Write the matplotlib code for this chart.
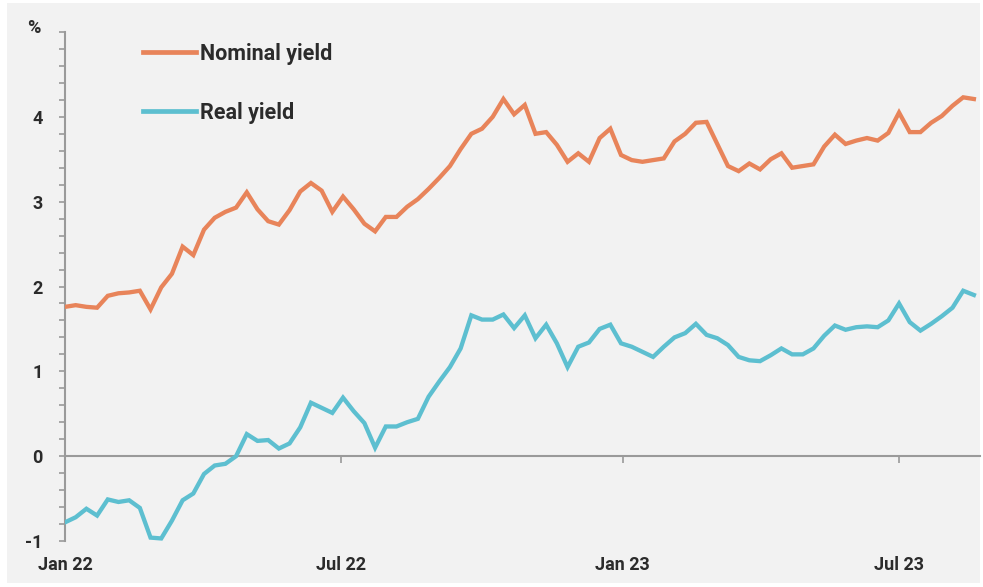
import pandas as pd
import matplotlib.pyplot as plt
import matplotlib.dates as mdates
from matplotlib.patches import Rectangle

# Weekly 10-year yields, % (first week of Jan 2022 to mid-Aug 2023)
start_date = '2022-01-01'
nominal_yield = [
    1.76, 1.78, 1.76, 1.75, 1.89, 1.92, 1.93, 1.95, 1.73, 1.99,
    2.15, 2.47, 2.37, 2.67, 2.81, 2.88, 2.93, 3.11, 2.91, 2.77,
    2.73, 2.90, 3.12, 3.22, 3.13, 2.88, 3.06, 2.91, 2.74, 2.65,
    2.82, 2.82, 2.94, 3.03, 3.15, 3.28, 3.42, 3.62, 3.80, 3.86,
    4.00, 4.21, 4.03, 4.14, 3.80, 3.82, 3.67, 3.47, 3.57, 3.47,
    3.75, 3.86, 3.55, 3.49, 3.47, 3.49, 3.51, 3.71, 3.80, 3.93,
    3.94, 3.68, 3.42, 3.36, 3.45, 3.38, 3.50, 3.57, 3.40, 3.42,
    3.44, 3.65, 3.79, 3.68, 3.72, 3.75, 3.72, 3.81, 4.05, 3.82,
    3.82, 3.93, 4.01, 4.13, 4.23, 4.21,
]
real_yield = [
    -0.78, -0.72, -0.62, -0.70, -0.51, -0.54, -0.52, -0.61, -0.96, -0.97,
    -0.76, -0.52, -0.44, -0.21, -0.11, -0.09, 0.00, 0.26, 0.18, 0.19,
    0.09, 0.15, 0.34, 0.63, 0.57, 0.51, 0.69, 0.53, 0.39, 0.10,
    0.35, 0.35, 0.40, 0.44, 0.70, 0.88, 1.05, 1.27, 1.66, 1.61,
    1.61, 1.67, 1.51, 1.66, 1.39, 1.55, 1.33, 1.05, 1.29, 1.34,
    1.50, 1.55, 1.33, 1.29, 1.23, 1.17, 1.29, 1.40, 1.45, 1.56,
    1.43, 1.39, 1.31, 1.17, 1.13, 1.12, 1.19, 1.27, 1.20, 1.20,
    1.27, 1.42, 1.54, 1.49, 1.52, 1.53, 1.52, 1.60, 1.80, 1.58,
    1.48, 1.56, 1.65, 1.75, 1.95, 1.90,
]
series_names = ['Nominal yield', 'Real yield']
series_colors = ['#e8845a', '#5dbfd0']
y_ticks = [-1, 0, 1, 2, 3, 4]
y_tick_labels = ['-1', '0', '1', '2', '3', '4']

dates = pd.date_range(start_date, periods=len(nominal_yield), freq='7D')

plt.rcParams['font.family'] = ['Roboto', 'DejaVu Sans']
text_col = '#2b2b2b'
axis_col = '#9a9a9a'
weight = 'semibold'

fig = plt.figure(figsize=(9.83, 5.87), dpi=100, facecolor='white')
# grey panel behind the chart, leaving a thin white margin
fig.patches.append(Rectangle((7 / 983, 4 / 587), 973 / 983, 580 / 587,
                             transform=fig.transFigure, facecolor='#f2f2f2',
                             edgecolor='none', zorder=-5))
ax = fig.add_axes([65 / 983, 1 - 541 / 587, 915 / 983, 509 / 587])
ax.set_facecolor('none')

for vals, name, col in zip([nominal_yield, real_yield], series_names, series_colors):
    ax.plot(dates, vals, color=col, lw=3.1, label=name, solid_joinstyle='miter',
            zorder=3)

ax.set_ylim(-1, 5)
ax.set_xlim(pd.Timestamp(start_date), pd.Timestamp(start_date) + pd.Timedelta(days=599))

# y axis
ax.set_yticks(y_ticks)
ax.set_yticklabels(y_tick_labels)
ax.set_yticks([v / 5 for v in range(-5, 26)], minor=True)
ax.tick_params(axis='y', which='both', direction='out', length=4, width=1.2,
               color=axis_col, labelsize=13, labelcolor=text_col, pad=12)
for lbl in ax.get_yticklabels():
    lbl.set_fontweight(weight)
ax.text(-0.027, 1.008, '%', transform=ax.transAxes, ha='right', va='center',
        fontsize=13, color=text_col, fontweight=weight)

for side in ['top', 'right', 'bottom']:
    ax.spines[side].set_visible(False)
ax.spines['left'].set_color(axis_col)
ax.spines['left'].set_linewidth(1.5)

# date labels along the bottom
ax.xaxis.set_major_locator(mdates.MonthLocator(bymonth=[1, 7]))
ax.xaxis.set_major_formatter(mdates.DateFormatter('%b %y'))
ax.tick_params(axis='x', length=0, labelsize=13, labelcolor=text_col, pad=11)
for lbl in ax.get_xticklabels():
    lbl.set_fontweight(weight)

# zero line with its own tick marks
zero_ax = ax.secondary_xaxis(1 / 6)
zero_ax.xaxis.set_major_locator(mdates.MonthLocator(bymonth=[1, 7]))
zero_ax.tick_params(axis='x', direction='out', length=5, width=1.2,
                    color=axis_col, labelbottom=False)
zero_ax.spines['bottom'].set_color(axis_col)
zero_ax.spines['bottom'].set_linewidth(1.5)

leg = ax.legend(loc='upper left', bbox_to_anchor=(143 / 983, 1 - 43 / 587),
                bbox_transform=fig.transFigure, frameon=False, fontsize=15.5,
                handlelength=2.45, handletextpad=0.22, labelspacing=1.7,
                borderpad=0, borderaxespad=0)
for t in leg.get_texts():
    t.set_color(text_col)
    t.set_fontweight(weight)
for h in leg.get_lines():
    h.set_linewidth(3.4)

fig.savefig('out.png', dpi=100, facecolor=fig.get_facecolor())
